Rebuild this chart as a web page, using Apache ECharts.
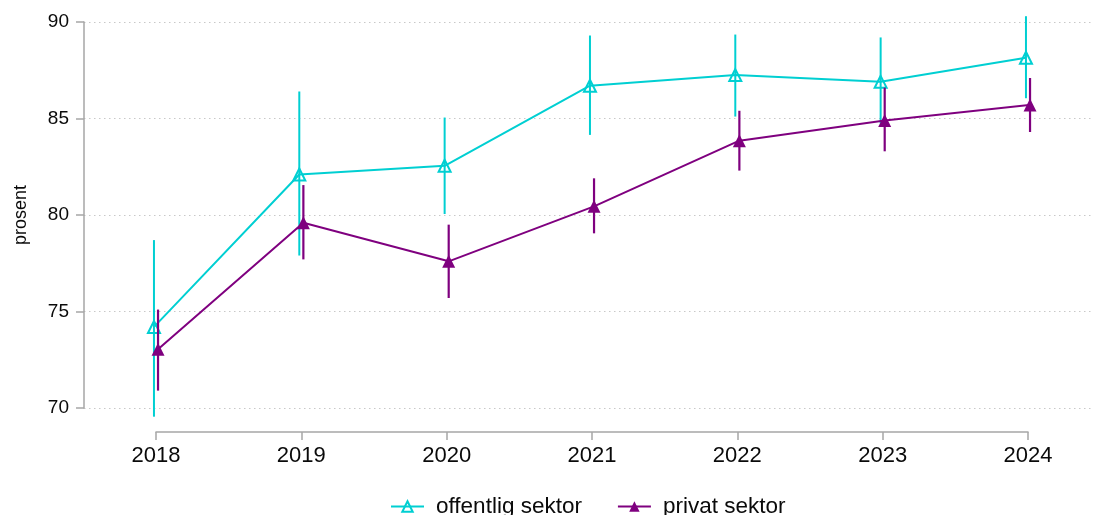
<!DOCTYPE html>
<html>
<head>
<meta charset="utf-8">
<script src="https://cdn.jsdelivr.net/npm/echarts@6/dist/echarts.min.js"></script>
<style>
  html, body { margin: 0; padding: 0; background: #fff; }
  #chart { width: 1094px; height: 515px; }
</style>
</head>
<body>
<div id="chart"></div>
<script>
// Andel i prosent per år, med konfidensintervall
const years = [2018, 2019, 2020, 2021, 2022, 2023, 2024];
const yTicks = [70, 75, 80, 85, 90];

const offentligVerdi = [74.2, 82.1, 82.55, 86.7, 87.25, 86.9, 88.15];
const offentligLav   = [69.55, 77.9, 80.05, 84.15, 85.1, 84.75, 86.05];
const offentligHoy   = [78.7, 86.4, 85.05, 89.3, 89.35, 89.2, 90.3];

const privatVerdi = [73.05, 79.6, 77.6, 80.45, 83.85, 84.9, 85.7];
const privatLav   = [70.9, 77.7, 75.7, 79.05, 82.3, 83.3, 84.3];
const privatHoy   = [75.1, 81.55, 79.5, 81.9, 85.4, 86.6, 87.1];

const farger = { offentlig: '#00cfd2', privat: '#7f007f' };
const tekstFarge = '#0a0a0a';
const aksefarge = '#a6a6a6';
const font = 'Liberation Sans, Arial, Helvetica, sans-serif';

// små sideforskyvninger slik at intervallene ikke dekker hverandre
const forskyvning = 0.014;

function punkter(verdier, dx) {
  return years.map((y, i) => [y + dx, verdier[i]]);
}
function intervaller(lav, hoy, dx) {
  return years.map((y, i) => [y + dx, lav[i], hoy[i]]);
}
function feilstrek(farge, bredde) {
  return function (params, api) {
    const x = api.value(0);
    const p1 = api.coord([x, api.value(1)]);
    const p2 = api.coord([x, api.value(2)]);
    return {
      type: 'line',
      shape: { x1: p1[0], y1: p1[1], x2: p2[0], y2: p2[1] },
      style: { stroke: farge, lineWidth: bredde }
    };
  };
}

const chart = echarts.init(document.getElementById('chart'), null, { renderer: 'canvas' });

chart.setOption({
  animation: false,
  backgroundColor: '#fff',
  textStyle: { fontFamily: font },
  grid: [
    { left: 84, right: 0, top: 22, bottom: 107, containLabel: false },
    { left: 156, right: 66, top: 22, bottom: 107, containLabel: false }
  ],
  xAxis: [
    { gridIndex: 0, type: 'value', min: 0, max: 1, show: false },
    {
      gridIndex: 1, type: 'value', min: 2018, max: 2024, interval: 1,
      offset: 24,
      axisLine: { show: true, lineStyle: { color: aksefarge, width: 1.5 } },
      axisTick: { show: true, inside: false, length: 8, lineStyle: { color: aksefarge, width: 1.5 } },
      axisLabel: { color: tekstFarge, fontSize: 22, margin: 13, fontFamily: font, formatter: v => String(v) },
      splitLine: { show: false }
    }
  ],
  yAxis: [
    {
      gridIndex: 0, type: 'value', min: yTicks[0], max: yTicks[yTicks.length - 1], interval: 5,
      name: 'prosent', nameLocation: 'middle', nameRotate: 90, nameGap: 54,
      nameTextStyle: { color: tekstFarge, fontSize: 18, fontFamily: font },
      axisLine: { show: true, lineStyle: { color: aksefarge, width: 1.5 } },
      axisTick: { show: true, length: 8, lineStyle: { color: aksefarge, width: 1.5 } },
      axisLabel: { color: tekstFarge, fontSize: 19, margin: 15, fontFamily: font },
      splitLine: { show: true, lineStyle: { color: '#c8c8c8', type: [1.5, 3.5], width: 1 } }
    },
    {
      gridIndex: 1, type: 'value', min: yTicks[0], max: yTicks[yTicks.length - 1], show: false
    }
  ],
  legend: {
    bottom: -8, left: 385,
    itemWidth: 33, itemHeight: 13, itemGap: 35,
    textStyle: { color: tekstFarge, fontSize: 22.5, fontFamily: font, padding: [0, 0, 0, 7] },
    data: ['offentlig sektor', 'privat sektor']
  },
  series: [
    {
      name: 'offentlig sektor', type: 'line', xAxisIndex: 1, yAxisIndex: 1,
      data: punkter(offentligVerdi, -forskyvning),
      symbol: 'triangle', symbolSize: 12, showAllSymbol: true,
      color: farger.offentlig,
      lineStyle: { color: farger.offentlig, width: 2 },
      itemStyle: { color: 'rgba(255,255,255,0)', borderColor: farger.offentlig, borderWidth: 2 },
      clip: false, z: 4
    },
    {
      name: 'offentlig intervall', type: 'custom', xAxisIndex: 1, yAxisIndex: 1,
      renderItem: feilstrek(farger.offentlig, 2),
      itemStyle: { color: farger.offentlig },
      data: intervaller(offentligLav, offentligHoy, -forskyvning),
      clip: false, z: 3, silent: true
    },
    {
      name: 'privat sektor', type: 'line', xAxisIndex: 1, yAxisIndex: 1,
      data: punkter(privatVerdi, forskyvning),
      symbol: 'triangle', symbolSize: 13, showAllSymbol: true,
      color: farger.privat,
      lineStyle: { color: farger.privat, width: 2 },
      itemStyle: { color: farger.privat, borderColor: farger.privat, borderWidth: 0 },
      clip: false, z: 6
    },
    {
      name: 'privat intervall', type: 'custom', xAxisIndex: 1, yAxisIndex: 1,
      renderItem: feilstrek(farger.privat, 2.2),
      itemStyle: { color: farger.privat },
      data: intervaller(privatLav, privatHoy, forskyvning),
      clip: false, z: 5, silent: true
    }
  ]
});
</script>
</body>
</html>
